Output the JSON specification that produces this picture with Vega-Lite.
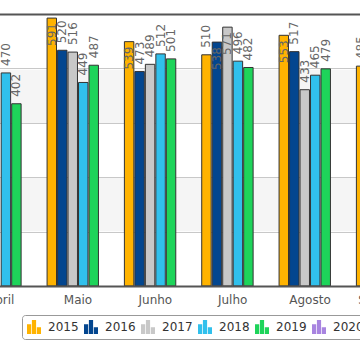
{
  "$schema": "https://vega.github.io/schema/vega-lite/v6.json",
  "width": 464,
  "height": 272,
  "autosize": {"type": "none"},
  "padding": {"left": -38, "right": -66, "top": 14, "bottom": 68},
  "background": "white",
  "config": {"view": {"stroke": null}, "font": "DejaVu Sans"},
  "data": {
    "values": [
      {"m": "Abril", "y": "2018", "v": 470},
      {"m": "Abril", "y": "2019", "v": 402},
      {"m": "Maio", "y": "2015", "v": 591},
      {"m": "Maio", "y": "2016", "v": 520},
      {"m": "Maio", "y": "2017", "v": 516},
      {"m": "Maio", "y": "2018", "v": 449},
      {"m": "Maio", "y": "2019", "v": 487},
      {"m": "Junho", "y": "2015", "v": 539},
      {"m": "Junho", "y": "2016", "v": 473},
      {"m": "Junho", "y": "2017", "v": 489},
      {"m": "Junho", "y": "2018", "v": 512},
      {"m": "Junho", "y": "2019", "v": 501},
      {"m": "Julho", "y": "2015", "v": 510},
      {"m": "Julho", "y": "2016", "v": 538},
      {"m": "Julho", "y": "2017", "v": 571},
      {"m": "Julho", "y": "2018", "v": 496},
      {"m": "Julho", "y": "2019", "v": 482},
      {"m": "Agosto", "y": "2015", "v": 553},
      {"m": "Agosto", "y": "2016", "v": 517},
      {"m": "Agosto", "y": "2017", "v": 433},
      {"m": "Agosto", "y": "2018", "v": 465},
      {"m": "Agosto", "y": "2019", "v": 479},
      {"m": "Setembro", "y": "2015", "v": 485}
    ]
  },
  "encoding": {
    "x": {
      "field": "m",
      "type": "nominal",
      "sort": ["Abril", "Maio", "Junho", "Julho", "Agosto", "Setembro"],
      "scale": {"domain": ["Abril", "Maio", "Junho", "Julho", "Agosto", "Setembro"], "paddingInner": 0.2, "paddingOuter": 0.1},
      "axis": {
        "title": null,
        "ticks": false,
        "labelAngle": 0,
        "labelFont": "DejaVu Sans",
        "labelFontSize": 12,
        "labelColor": "#555555",
        "labelPadding": 8,
        "domainColor": "#555555",
        "domainWidth": 2,
        "zindex": 1
      }
    },
    "xOffset": {
      "field": "y",
      "type": "nominal",
      "scale": {"domain": ["2015", "2016", "2017", "2018", "2019", "2020"], "paddingInner": 0.1, "paddingOuter": 0}
    },
    "y": {
      "field": "v",
      "type": "quantitative",
      "scale": {"domain": [0, 600], "nice": false}
    }
  },
  "layer": [
    {
      "mark": {"type": "bar", "stroke": "#333333", "strokeWidth": 1, "opacity": 1},
      "encoding": {
        "y": {
          "field": "v",
          "type": "quantitative",
          "scale": {"domain": [0, 600], "nice": false},
          "axis": {
            "title": null,
            "labels": false,
            "ticks": false,
            "domain": false,
            "grid": true,
            "values": [180, 420],
            "gridColor": "#f5f5f5",
            "gridWidth": 53.4,
            "gridOpacity": 1
          }
        },
        "color": {
          "field": "y",
          "type": "nominal",
          "scale": {
            "domain": ["2015", "2016", "2017", "2018", "2019", "2020"],
            "range": ["#ffb300", "#03468f", "#c8c8c8", "#31c0ec", "#1ed45a", "#a884e0"]
          },
          "legend": {
            "title": null,
            "orient": "none",
            "legendX": 60,
            "legendY": 301,
            "direction": "horizontal",
            "fillColor": "white",
            "strokeColor": "#999999",
            "padding": 5,
            "cornerRadius": 3,
            "symbolType": "M-1,1L-1,-0.4L-0.4,-0.4L-0.4,1ZM-0.3,1L-0.3,-1L0.3,-1L0.3,1ZM0.4,1L0.4,0.05L1,0.05L1,1Z",
            "symbolSize": 196,
            "symbolStrokeWidth": 0,
            "symbolOpacity": 1,
            "labelFont": "DejaVu Sans",
            "labelFontSize": 12,
            "labelColor": "#333333",
            "labelOffset": 7,
            "columnPadding": 5
          }
        }
      }
    },
    {
      "transform": [{"filter": "datum.v < 530"}],
      "mark": {"type": "text", "angle": 270, "align": "left", "baseline": "middle", "dx": 7, "fontSize": 12, "font": "DejaVu Sans", "fill": "#666666"},
      "encoding": {
        "y": {
          "field": "v",
          "type": "quantitative",
          "scale": {"domain": [0, 600], "nice": false},
          "axis": {
            "title": null,
            "orient": "right",
            "labels": false,
            "ticks": false,
            "domain": false,
            "grid": true,
            "values": [120, 240, 360, 480, 600],
            "gridColor": {"condition": {"test": "datum.value === 600", "value": "#555555"}, "value": "#c8c8c8"},
            "gridWidth": {"condition": {"test": "datum.value === 600", "value": 2}, "value": 1},
            "gridOpacity": 1
          }
        },
        "text": {"field": "v", "type": "quantitative"}
      }
    },
    {
      "transform": [{"filter": "datum.v >= 530"}],
      "mark": {"type": "text", "angle": 270, "align": "right", "baseline": "middle", "dx": -5, "fontSize": 12, "font": "DejaVu Sans", "fill": "#666666"},
      "encoding": {
        "y": {
          "field": "v",
          "type": "quantitative",
          "scale": {"domain": [0, 600], "nice": false},
          "axis": null
        },
        "text": {"field": "v", "type": "quantitative"}
      }
    }
  ],
  "resolve": {"axis": {"y": "independent"}}
}
